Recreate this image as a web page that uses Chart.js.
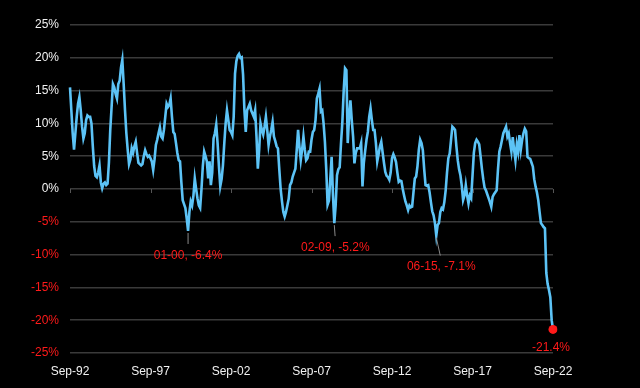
<!DOCTYPE html>
<html>
<head>
<meta charset="utf-8">
<script src="https://cdn.jsdelivr.net/npm/chart.js@4"></script>
<style>
  html, body { margin: 0; padding: 0; background: #000; }
  #wrap { width: 640px; height: 388px; position: relative; }
</style>
</head>
<body>
<div id="wrap"><canvas id="chart"></canvas></div>
<script>
// monthly YoY %, Sep-92 .. Sep-22 (one row = Sep..Aug)
const yoy = [
  15.5, 12, 8.5, 6, 8.5, 11, 13, 14, 12, 9.5, 7.7, 8.5,
  10.5, 11.2, 11, 11, 10, 6.5, 3.5, 2, 1.8, 2.5, 3.6, 1,
  0.1, 0.8, 1, 0.6, 0.8, 4, 9, 12.5, 16, 15.5, 14.5, 13.8,
  16, 16.5, 18.5, 19.7, 16, 12, 8.5, 6, 3.8, 4.5, 6.2, 5.5,
  6.5, 7.2, 5.5, 4, 3.8, 3.6, 3.8, 5, 5.9, 5.3, 4.9, 5.1,
  4.7, 4.2, 2.9, 4.5, 6.7, 7.5, 8.5, 9.4, 8, 7.7, 9, 11,
  13, 12.5, 12.8, 13.8, 11, 8.7, 8.4, 7, 5.5, 4.4, 4.2, 1,
  -1.7, -2.3, -2.9, -4.5, -6.4, -3.5, -1.9, -2.5, -1, 1.6, 0, -1.4,
  -2.5, -2.9, 0, 3.5, 5.7, 5, 4.2, 1.6, 4.2, 0.6, 2.5, 7.7,
  8.5, 9.8, 7, 3.5, 0.4, 1.5, 3.6, 7, 10, 12, 10.5, 9,
  8.7, 8.2, 11, 17.6, 19.5, 20.3, 20.6, 20, 20.1, 17.4, 12, 8.7,
  12, 12.5, 13, 12, 11.5, 11, 12, 8, 3.1, 6, 10, 9,
  8.3, 9.5, 11, 9, 6.7, 8, 9, 10.2, 8, 7.3, 6.5, 6.2,
  3, 0, -1.9, -3.5, -4.2, -3.5, -2.5, -1.5, 0.6, 1, 1.9, 2.5,
  3.1, 6, 9, 6.5, 4.4, 6, 8, 6, 4.4, 4.7, 5.7, 5.7,
  7.5, 8.7, 9, 10.5, 13.8, 14.5, 15.3, 11.8, 12, 10, 7.2, 3,
  -2.4, -1.8, 1.5, 4.9, -1, -5.2, -2.5, 2.1, 3, 3.3, 7, 10.2,
  15, 18.4, 18.1, 7, 11, 13.5, 10.5, 8, 3.9, 5.5, 6.2, 6.2,
  6.2, 7, 0.4, 4, 5.8, 7.5, 8.7, 11, 12.3, 10.5, 9, 9,
  7, 4.2, 5.3, 6.5, 7.2, 5.6, 4, 2.6, 2, 1.8, 1.4, 2.5,
  4.7, 5.3, 4.8, 4.1, 2.5, 1.1, 1.3, 1.2, 0, -1, -1.9, -2.5,
  -3.2, -2.5, -2.8, -2.7, -0.5, 1.6, 1.9, 3.5, 6, 7.5, 7, 5.9,
  3, 0.6, 0.5, 0.6, -0.5, -2, -3.4, -4, -5.2, -7.1, -5.5, -5.2,
  -3.5, -2.9, -3.1, -2, -0.2, 2.5, 4.7, 5.4, 7.5, 9.5, 9.3, 9,
  6.5, 4.4, 3, 2.1, 0.5, -1.7, -1, 0.6, -1, -2.2, -1, -1.4,
  2, 5.5, 7, 7.5, 7.2, 6.8, 5, 3.1, 1.5, 0.2, -0.2, -0.8,
  -1.4, -2, -2.7, -1.2, -0.8, -0.5, -0.2, 3, 5.7, 6.5, 7.5, 8.5,
  9, 9.5, 8, 8.5, 7, 5.7, 7.9, 6, 4.4, 6.8, 5.7, 8.2,
  6, 7.5, 8.5, 9.2, 8.8, 4.9, 4.7, 4.6, 4, 3.4, 1.5, 0.4,
  -0.5, -1.7, -3.5, -5.2, -5.5, -5.8, -6, -12.8, -14.5, -15.4, -16.5, -20,
  -21.4
];

const monthNames = ["Jan","Feb","Mar","Apr","May","Jun","Jul","Aug","Sep","Oct","Nov","Dec"];
const xTickLabels = ["Sep-92", "Sep-97", "Sep-02", "Sep-07", "Sep-12", "Sep-17", "Sep-22"];
const yTicks = [-25, -20, -15, -10, -5, 0, 5, 10, 15, 20, 25];

// troughs marked on the chart
const troughMonths = ["Jan-00", "Feb-09", "Jun-15"];
const troughTexts = ["01-00, -6.4%", "02-09, -5.2%", "06-15, -7.1%"];
const lastText = "-21.4%";

// month labels Sep-92 .. Sep-22
const months = [];
for (let i = 0; i < yoy.length; i++) {
    const m = (8 + i) % 12;
    const y = 1992 + Math.floor((8 + i) / 12);
    months.push(monthNames[m] + "-" + String(y).slice(2));
}

const RED = "#ff1a1a";
const WHITE = "#f2f2f2";
const FONT = "'Liberation Sans', Arial, sans-serif";

// small ticks on the zero line + trough labels
const extras = {
    id: "extras",
    afterDatasetsDraw(chart) {
        const ctx = chart.ctx;
        const xs = chart.scales.x, ys = chart.scales.y;
        const y0 = ys.getPixelForValue(0);

        ctx.save();
        ctx.strokeStyle = "#555";
        ctx.lineWidth = 1;
        xTickLabels.forEach(l => {
            const px = Math.round(xs.getPixelForValue(months.indexOf(l))) + 0.5;
            ctx.beginPath();
            ctx.moveTo(px, y0);
            ctx.lineTo(px, y0 + 4);
            ctx.stroke();
        });

        ctx.font = "12px " + FONT;
        ctx.textAlign = "center";
        ctx.textBaseline = "middle";
        const offs = [[0, 25, 13], [1, 25, 13], [5, 31, 20]];
        troughMonths.forEach((m, i) => {
            const idx = months.indexOf(m);
            const px = xs.getPixelForValue(idx);
            const py = ys.getPixelForValue(yoy[idx]);
            ctx.strokeStyle = "#8a8a8a";
            ctx.beginPath();
            ctx.moveTo(px, py + 2);
            ctx.lineTo(px + offs[i][0] * 0.8, py + offs[i][2]);
            ctx.stroke();
            ctx.fillStyle = RED;
            ctx.fillText(troughTexts[i], px + offs[i][0], py + offs[i][1]);
        });

        const li = yoy.length - 1;
        ctx.fillStyle = RED;
        ctx.fillText(lastText, xs.getPixelForValue(li) - 2, ys.getPixelForValue(yoy[li]) + 18);
        ctx.restore();
    }
};

new Chart(document.getElementById("chart"), {
    type: "line",
    data: {
        labels: months,
        datasets: [{
            data: yoy,
            borderColor: "#5cc3f6",
            borderWidth: 2.6,
            tension: 0,
            pointRadius: c => c.dataIndex === yoy.length - 1 ? 4.5 : 0,
            pointBackgroundColor: RED,
            pointBorderWidth: 0
        }]
    },
    options: {
        responsive: true,
        maintainAspectRatio: false,
        animation: false,
        layout: { padding: { top: 25, right: 87, left: 0, bottom: 0 } },
        plugins: { legend: { display: false }, tooltip: { enabled: false } },
        scales: {
            x: {
                grid: { display: false },
                border: { display: false },
                afterFit: s => { s.height = 35; },
                ticks: {
                    autoSkip: false,
                    maxRotation: 0,
                    padding: 3,
                    color: WHITE,
                    font: { family: FONT, size: 12 },
                    callback: (v, i) => xTickLabels.includes(months[i]) ? months[i] : null
                }
            },
            y: {
                min: yTicks[0],
                max: yTicks[yTicks.length - 1],
                afterBuildTicks: s => { s.ticks = yTicks.map(v => ({ value: v })); },
                afterFit: s => { s.width = 70; },
                border: { display: false },
                grid: { color: "#3a3a3a", lineWidth: 1.5, drawTicks: false },
                ticks: {
                    padding: 11,
                    font: { family: FONT, size: 12 },
                    color: c => c.tick.value < 0 ? RED : WHITE,
                    callback: v => v + "%"
                }
            }
        }
    },
    plugins: [extras]
});
</script>
</body>
</html>
